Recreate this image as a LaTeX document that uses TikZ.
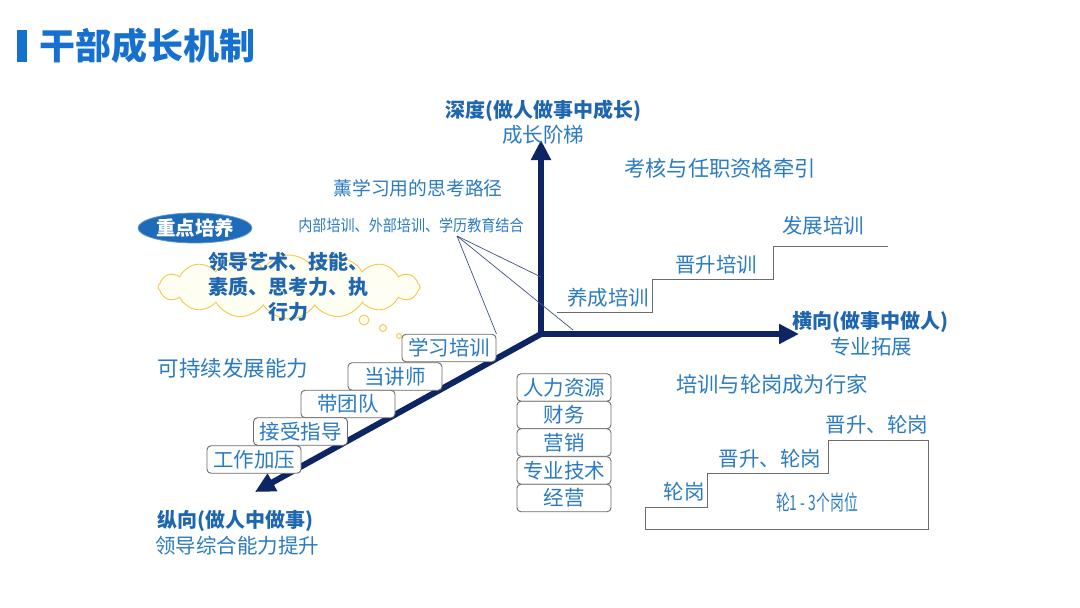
\documentclass[tikz,border=0pt]{standalone}
\usepackage{fontspec}
\setmainfont{Noto Sans CJK SC}
\usetikzlibrary{shapes.geometric,shapes.symbols,arrows.meta}
\definecolor{titleblue}{HTML}{1570CF}
\definecolor{txtblue}{HTML}{2A7BC2}
\definecolor{boldblue}{HTML}{1F66B0}
\definecolor{navy}{HTML}{0D2663}
\definecolor{cloudline}{HTML}{F2C84B}
\definecolor{cloudfill}{HTML}{FFFEF2}
\definecolor{ellblue}{HTML}{1E6BB8}
\definecolor{boxline}{HTML}{6B6B6B}
\newcommand{\fsz}[1]{\fontsize{#1}{#1}\selectfont}
\tikzset{
  lbl/.style={text=txtblue, font=\fsz{20.5}, inner sep=0pt},
  blbl/.style={text=boldblue, font=\fsz{20}\bfseries, inner sep=0pt},
  stepbox/.style={rectangle, rounded corners=4pt, draw=boxline, line width=0.9pt, fill=white,
    minimum width=94pt, minimum height=27.5pt, inner sep=0pt, text=txtblue, font=\fsz{20.5}},
  axis/.style={draw=navy, line width=6pt, -{Triangle[length=20pt,width=19pt]}},
  thin/.style={draw=navy!80, line width=0.7pt},
  stair/.style={draw=boxline, line width=1pt},
  bubble/.style={draw=cloudline, line width=0.9pt, fill=cloudfill},
}
\begin{document}
\begin{tikzpicture}[x=1pt,y=-1pt]
\useasboundingbox[fill=white] (0,0) rectangle (1080,608);
% title
\fill[titleblue] (17,30) rectangle (27,62);
\node[anchor=west, text=titleblue, font=\fsz{36}\bfseries, inner sep=0pt] (title) at (39,46) {干部成长机制};

% axes
\coordinate (O) at (541,334);
\coordinate (up) at (541,140);
\coordinate (right) at (799,334);
\coordinate (dl) at (255,492);
\draw[axis] (O) -- (up);
\draw[axis] (O) -- (right);
\draw[axis] (O) -- (dl);

% axis labels
\node[blbl] (deep) at (543,111) {深度(做人做事中成长)};
\node[lbl] (deep2) at (543,135) {成长阶梯};
\node[blbl] (horiz) at (870,322) {横向(做事中做人)};
\node[lbl] (horiz2) at (871,347) {专业拓展};
\node[blbl] (vert) at (235,521) {纵向(做人中做事)};
\node[lbl] (vert2) at (237,546) {领导综合能力提升};

% top-right
\node[lbl, font=\fsz{21.3}] (kaohe) at (720,168) {考核与任职资格牵引};
\draw[stair] (557,312) -- (652,312) -- (652,279) -- (773,279) -- (773,246) -- (888,246);
\node[lbl] (yc) at (608,298) {养成培训};
\node[lbl] (js) at (716,265) {晋升培训};
\node[lbl] (fz) at (823,226) {发展培训};

% top-left texts
\node[lbl, font=\fsz{18.8}] (xun) at (418,188) {薰学习用的思考路径};
\node[lbl, font=\fsz{16}] (nb) at (411,225) {\scalebox{0.88}[1]{内部培训、外部培训、学历教育结合}};
\coordinate (P) at (457,236);

\node[ellipse, fill=ellblue, draw=ellblue!70!white, line width=0.8pt, minimum width=114pt, minimum height=30pt, inner sep=0pt,
  text=white, font=\fsz{19.5}\bfseries] (zd) at (195,228) {重点培养};

\node[cloud, cloud puffs=16, cloud puff arc=115, aspect=4.2, bubble, minimum width=262pt, minimum height=64pt, inner sep=0pt] (cloud) at (289,287) {};
\node[text=boldblue, font=\fontsize{20}{25}\selectfont\bfseries, align=center, inner sep=0pt] (ctext) at (288,287)
  {领导艺术、技能、\\素质、思考力、执\\行力};
\draw[bubble] (364,320) circle[radius=5];
\draw[bubble] (383,328) circle[radius=3.5];
\draw[bubble] (399,336) circle[radius=2.5];

\node[lbl, font=\fsz{21.5}] (kcx) at (233,368) {可持续发展能力};

% stair boxes
\node[stepbox] (b1) at (449,348) {学习培训};
\node[stepbox] (b2) at (395,376.5) {当讲师};
\node[stepbox] (b3) at (348,404) {带团队};
\node[stepbox] (b4) at (300.5,431.5) {接受指导};
\node[stepbox] (b5) at (254,459.5) {工作加压};

% connectors from text
\draw[thin] (P) -- (541,277);
\draw[thin] (P) -- (573,330);
\draw[thin] (P) -- (b1.north east);

% column boxes
\node[stepbox] (c1) at (564,387.5) {人力资源};
\node[stepbox] (c2) at (564,415) {财务};
\node[stepbox] (c3) at (564,442.5) {营销};
\node[stepbox] (c4) at (564,470.5) {专业技术};
\node[stepbox] (c5) at (564,498) {经营};

% bottom-right
\node[lbl, font=\fsz{21.3}] (px) at (772,384) {培训与轮岗成为行家};
\draw[stair] (645,507) -- (707,507) -- (707,473.5) -- (828,473.5) -- (828,440) -- (928,440) -- (928,529) -- (645,529) -- cycle;
\node[lbl] (lg) at (684,492) {轮岗};
\node[lbl] (sl1) at (770,459) {晋升、轮岗};
\node[lbl] (sl2) at (877,425) {晋升、轮岗};
\node[lbl, font=\fsz{21}] (l13) at (817,502) {\scalebox{0.66}[1]{轮1 - 3个岗位}};
\end{tikzpicture}
\end{document}
